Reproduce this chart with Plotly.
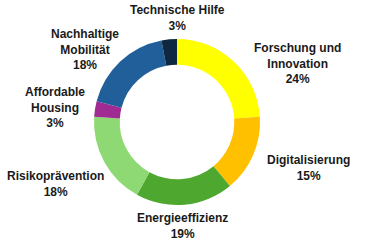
import plotly.graph_objects as go

labels = ["Forschung und Innovation", "Digitalisierung", "Energieeffizienz",
          "Risikoprävention", "Affordable Housing", "Nachhaltige Mobilität",
          "Technische Hilfe"]
label_lines = ["Forschung und<br>Innovation", "Digitalisierung", "Energieeffizienz",
               "Risikoprävention", "Affordable<br>Housing", "Nachhaltige<br>Mobilität",
               "Technische Hilfe"]
values = [24, 15, 19, 18, 3, 18, 3]
colors = ["#FFFF00", "#FFC000", "#4EA72E", "#8ED973", "#A02B93", "#215F9A", "#0E2841"]

W, H = 365, 250
cx, cy, r = 177, 122, 83

fig = go.Figure(go.Pie(
    labels=labels, values=values, sort=False, direction="clockwise", rotation=0,
    hole=0.69, marker=dict(colors=colors, line=dict(width=0)),
    textinfo="none", hoverinfo="label+percent", showlegend=False,
    domain=dict(x=[(cx - r) / W, (cx + r) / W], y=[(H - cy - r) / H, (H - cy + r) / H]),
))

# label block centres (pixel positions of annotation text)
label_pos = [(297, 63), (308, 168), (182, 226), (55, 184), (55, 108), (85, 50), (177, 18)]
total = sum(values)
for txt, v, (px, py) in zip(label_lines, values, label_pos):
    fig.add_annotation(
        x=px / W, y=1 - py / H, xref="paper", yref="paper",
        text=f"<b>{txt}<br>{round(100 * v / total)}%</b>",
        showarrow=False, xanchor="center", yanchor="middle", align="center",
        font=dict(family="Liberation Sans, Arial, sans-serif", size=12, color="#1a1a1a"),
    )

fig.update_layout(width=W, height=H, margin=dict(l=0, r=0, t=0, b=0),
                  paper_bgcolor="white", plot_bgcolor="white")
fig.write_html("out.html")
